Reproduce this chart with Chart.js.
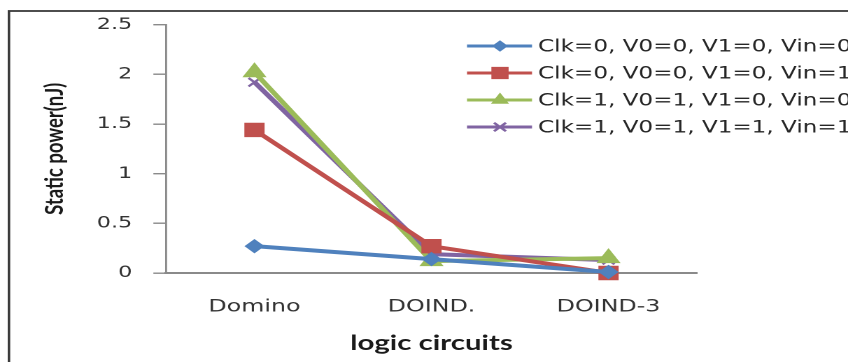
<!DOCTYPE html>
<html>
<head>
<meta charset="utf-8">
<script src="https://cdn.jsdelivr.net/npm/chart.js@4.4.1/dist/chart.umd.min.js"></script>
<style>
  html, body { margin: 0; padding: 0; background: #ffffff; overflow: hidden; }
  #stage { position: absolute; left: 0; top: 0; width: 848px; height: 362px; overflow: hidden; background: #fff; }
  /* the figure is drawn at 606px wide and widened to 848px */
  #wrap { position: absolute; left: 0; top: 0; width: 606px; height: 362px;
          transform: scaleX(1.39934); transform-origin: 0 0; }
  canvas { display: block; }
</style>
</head>
<body>
<div id="stage"><div id="wrap"><canvas id="c" width="606" height="362"></canvas></div></div>
<script>
// ---- data ----
const categories = ['Domino', 'DOIND.', 'DOIND-3'];
const seriesLabels = [
  'Clk=0, V0=0, V1=0, Vin=0',
  'Clk=0, V0=0, V1=0, Vin=1',
  'Clk=1, V0=1, V1=0, Vin=0',
  'Clk=1, V0=1, V1=1, Vin=1'
];
const clk0V00V10Vin0 = [0.27, 0.14, 0.01];
const clk0V00V10Vin1 = [1.44, 0.27, 0.00];
const clk1V01V10Vin0 = [2.02, 0.12, 0.15];
const clk1V01V11Vin1 = [1.92, 0.19, 0.13];
const yTickValues = [0, 0.5, 1, 1.5, 2, 2.5];
const yTickLabels = ['0', '0.5', '1', '1.5', '2', '2.5'];

// ---- styling ----
const colors = ['#4F81BD', '#C0504D', '#9BBB59', '#8064A2'];
const markers = [
  { style: 'rectRot',  radius: 6.5, legendRadius: 5 },
  { style: 'rect',     radius: 9.5, legendRadius: 8 },
  { style: 'triangle', radius: 9,   legendRadius: 6.5 },
  { style: 'crossRot', radius: 6,   legendRadius: 6 }
];
const seriesValues = [clk0V00V10Vin0, clk0V00V10Vin1, clk1V01V10Vin0, clk1V01V11Vin1];

const datasets = seriesValues.map((vals, i) => ({
  label: seriesLabels[i],
  data: vals,
  borderColor: colors[i],
  backgroundColor: colors[i],
  borderWidth: 4,
  pointStyle: markers[i].style,
  pointRadius: markers[i].radius,
  pointHoverRadius: markers[i].radius,
  pointBorderWidth: markers[i].style === 'crossRot' ? 2 : 1,
  pointBorderColor: colors[i],
  pointBackgroundColor: colors[i],
  tension: 0,
  clip: false
}));

// outer frame of the chart box
const frame = {
  id: 'frame',
  beforeDraw(chart) {
    const ctx = chart.ctx;
    ctx.save();
    ctx.strokeStyle = '#3a3a3a';
    ctx.lineWidth = 1.8;
    ctx.strokeRect(6.4, 11, 800, 500);
    ctx.restore();
  }
};

// legend: short line with a marker, then the series name
const lineLegend = {
  id: 'lineLegend',
  afterDraw(chart) {
    const ctx = chart.ctx;
    const rowY = [46, 73, 100, 127];
    const x1 = 333.7, x2 = 380.2, xm = 357.3, xt = 384.5;
    ctx.save();
    chart.data.datasets.forEach((ds, i) => {
      const y = rowY[i];
      ctx.strokeStyle = ds.borderColor;
      ctx.lineWidth = 3;
      ctx.beginPath();
      ctx.moveTo(x1, y);
      ctx.lineTo(x2, y);
      ctx.stroke();
      ctx.fillStyle = ds.pointBackgroundColor;
      ctx.strokeStyle = ds.pointBorderColor;
      ctx.lineWidth = ds.pointBorderWidth;
      const opts = { pointStyle: ds.pointStyle, radius: markers[i].legendRadius,
                     borderWidth: ds.pointBorderWidth, rotation: 0 };
      if (Chart.helpers && Chart.helpers.drawPoint) {
        Chart.helpers.drawPoint(ctx, opts, xm, y);
      }
      ctx.fillStyle = '#262626';
      ctx.font = '16.5px "DejaVu Sans"';
      ctx.textAlign = 'left';
      ctx.textBaseline = 'middle';
      ctx.fillText(ds.label, xt, y + 1);
    });
    ctx.restore();
  }
};

new Chart(document.getElementById('c'), {
  type: 'line',
  data: { labels: categories, datasets: datasets },
  plugins: [frame, lineLegend],
  options: {
    responsive: false,
    animation: false,
    devicePixelRatio: 2,
    layout: { padding: { left: 24, right: 107.9, top: 24, bottom: 0 } },
    plugins: {
      legend: { display: false },
      tooltip: { enabled: false },
      title: { display: false }
    },
    scales: {
      x: {
        type: 'category',
        offset: true,
        grid: { display: false, drawTicks: false },
        border: { display: true, color: '#8a8a8a', width: 2 },
        ticks: {
          padding: 24,
          color: '#333333',
          font: { family: 'DejaVu Sans', size: 17 }
        },
        title: {
          display: true,
          text: 'logic circuits',
          color: '#1a1a1a',
          font: { family: 'Lato', size: 21, weight: 'bold' },
          padding: { top: 0, bottom: 6 }
        },
        afterFit(scale) { scale.height = 89; }
      },
      y: {
        min: 0,
        max: 2.5,
        afterBuildTicks(scale) { scale.ticks = yTickValues.map(v => ({ value: v })); },
        grid: {
          display: true,
          drawOnChartArea: false,
          drawTicks: true,
          tickLength: 9,
          color: '#8a8a8a',
          lineWidth: 1.4
        },
        border: { display: true, color: '#8a8a8a', width: 1.4 },
        ticks: {
          padding: 15,
          color: '#333333',
          font: { family: 'DejaVu Sans', size: 16 },
          callback(value) {
            const k = yTickValues.indexOf(value);
            return k >= 0 ? yTickLabels[k] : String(value);
          }
        },
        title: {
          display: true,
          text: 'Static power(nJ)',
          color: '#1a1a1a',
          font: { family: 'Lato', size: 18.5, weight: 'bold' },
          padding: { top: 4, bottom: 4 }
        },
        afterFit(scale) { scale.width = 94.6; }
      }
    }
  }
});
</script>
</body>
</html>
